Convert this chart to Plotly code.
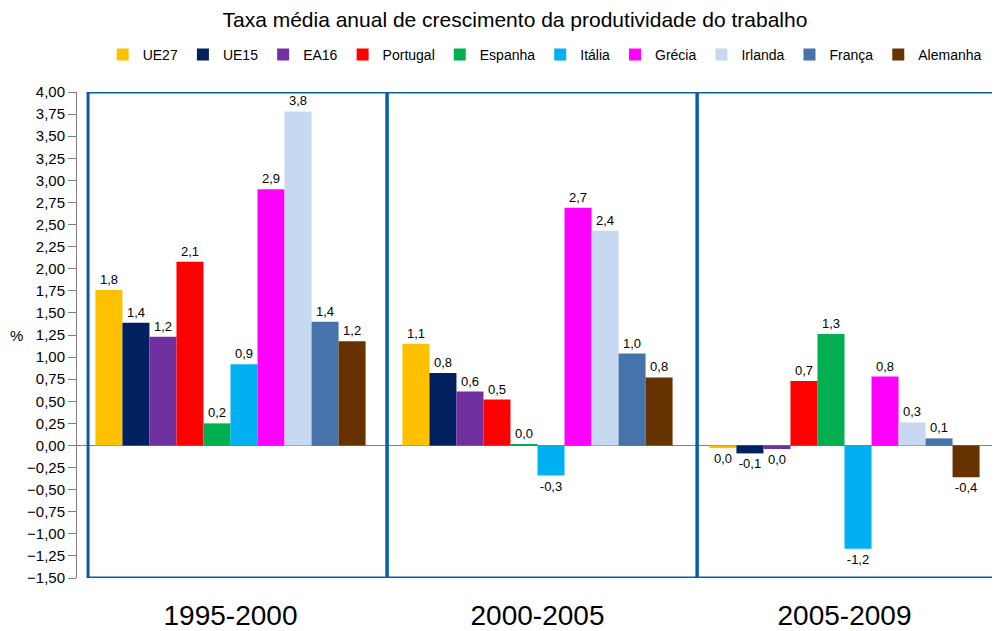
import plotly.graph_objects as go

periods = ["1995-2000", "2000-2005", "2005-2009"]
series_names = ["UE27", "UE15", "EA16", "Portugal", "Espanha", "Itália", "Grécia", "Irlanda", "França", "Alemanha"]
colors = ["#FFC000", "#002060", "#7030A0", "#FF0000", "#00B050", "#00B0F0", "#FF00FF", "#C6D9F1", "#4674AA", "#663300"]

UE27 = [1.76, 1.15, -0.03]
UE15 = [1.39, 0.82, -0.09]
EA16 = [1.23, 0.61, -0.04]
Portugal = [2.08, 0.52, 0.73]
Espanha = [0.25, 0.01, 1.26]
Italia = [0.92, -0.34, -1.17]
Grecia = [2.90, 2.69, 0.78]
Irlanda = [3.78, 2.43, 0.26]
Franca = [1.40, 1.04, 0.08]
Alemanha = [1.18, 0.77, -0.36]

series_values = [UE27, UE15, EA16, Portugal, Espanha, Italia, Grecia, Irlanda, Franca, Alemanha]

y_ticks = [4.0 - 0.25 * i for i in range(23)]

FONT = "Liberation Sans, Arial, sans-serif"


def fmt(v):
    r = round(v, 1)
    s = f"{abs(r):.1f}".replace(".", ",")
    return ("-" + s) if r < 0 else s


fig = go.Figure()
for name, vals, col in zip(series_names, series_values, colors):
    fig.add_trace(go.Bar(
        x=periods, y=vals, name=name, marker_color=col,
        marker_line_width=0,
        text=[fmt(v) for v in vals], textposition="outside",
        textfont=dict(size=13, color="#000000", family=FONT),
        cliponaxis=False,
    ))

# framing boxes around each period
box_edges = [(-0.464, 0.51), (0.51, 1.52), (1.52, 2.49)]
for x0, x1 in box_edges:
    fig.add_shape(type="rect", xref="x", yref="y", x0=x0, x1=x1, y0=-1.5, y1=4.0,
                  line=dict(color="#0B5CA5", width=3), fillcolor="rgba(0,0,0,0)", layer="above")

fig.add_annotation(text="%", xref="paper", yref="y", x=-0.066, y=1.25, showarrow=False,
                   xanchor="center", font=dict(size=15, color="#000000", family=FONT))

fig.update_layout(
    width=992, height=623,
    margin=dict(l=69, r=2, t=84, b=53),
    plot_bgcolor="white", paper_bgcolor="white",
    font=dict(family=FONT, color="#000000"),
    separators=",.",
    barmode="group", bargap=0.12, bargroupgap=0,
    title=dict(text="Taxa média anual de crescimento da produtividade do trabalho",
               xref="container", x=0.511, xanchor="center",
               yref="container", y=0.981, yanchor="middle",
               font=dict(size=21, color="#000000", family=FONT)),
    legend=dict(orientation="h", xref="container", x=0.541, xanchor="center",
                yref="container", y=0.9246, yanchor="middle",
                font=dict(size=14, color="#000000", family=FONT), itemwidth=30,
                traceorder="normal", bgcolor="rgba(0,0,0,0)"),
    showlegend=True,
)
fig.update_xaxes(showline=False, showgrid=False, ticks="", automargin=False,
                 tickfont=dict(size=28, color="#000000", family=FONT), ticklabelstandoff=18,
                 range=[-0.5, 2.5])
fig.update_yaxes(range=[-1.5, 4.0], tickvals=y_ticks, tickformat=".2f", automargin=False,
                 showgrid=False, showline=True, linecolor="#808080", linewidth=1,
                 ticks="outside", ticklen=8, tickcolor="#808080",
                 tickfont=dict(size=15, color="#000000", family=FONT),
                 zeroline=True, zerolinecolor="#808080", zerolinewidth=1)

fig.write_html("out.html")
